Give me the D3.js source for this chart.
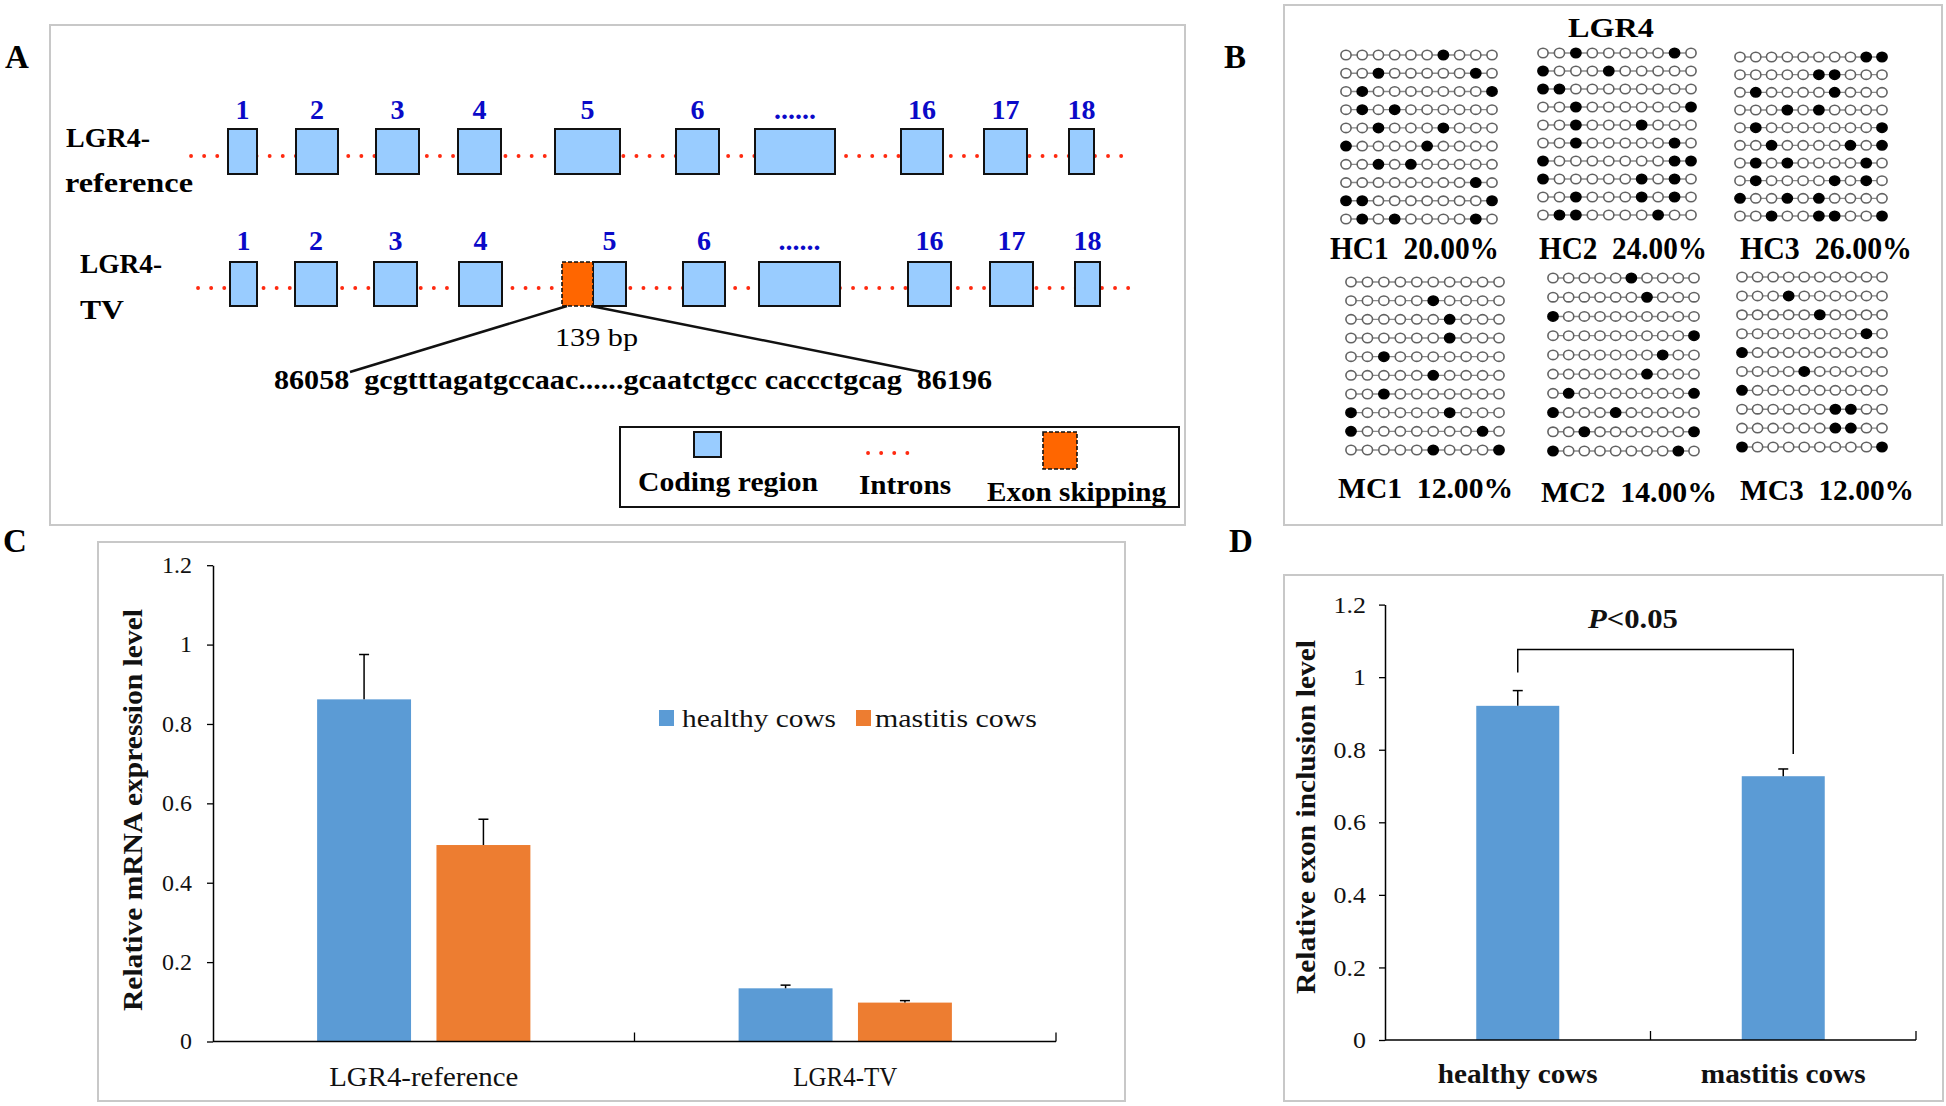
<!DOCTYPE html>
<html>
<head>
<meta charset="utf-8">
<script src="https://cdn.jsdelivr.net/npm/d3@7"></script>
<style>
  html, body { margin: 0; padding: 0; background: #fff; }
  svg { display: block; }
  text { font-family: "Liberation Serif", "Times New Roman", serif; }
</style>
</head>
<body>
<svg id="fig" width="1946" height="1106"></svg>
<script>
// ---------------- DATA ----------------
// Panel A: exon structure (diagram units along the gene)
const exonLabels = ["1","2","3","4","5","6","......","16","17","18"];
const refExonStart = [38,106,186,268,365,486,565,711,794,879];
const refExonEnd   = [67,148,229,311,430,529,645,753,837,904];
const tvExonStart  = [40,105,184,269,403,493,569,718,800,885];
const tvExonEnd    = [67,147,227,312,436,535,650,761,843,910];
const tvSkipStart = 372, tvSkipEnd = 403;
const refIntron = [1, 935];
const tvIntron = [8, 943];
const skipLengthLabel = "139 bp";
const skipSequence = "86058  gcgtttagatgccaac......gcaatctgcc caccctgcag  86196";
const legendLabelsA = ["Coding region","Introns","Exon skipping"];

// Panel B: methylation (filled CpG positions per clone, 10 clones x 10 CpGs)
const bTitle = "LGR4";
const bSamples = ["HC1","HC2","HC3","MC1","MC2","MC3"];
const bPercents = ["20.00%","24.00%","26.00%","12.00%","14.00%","12.00%"];
const hc1 = [[7],[3,9],[2,10],[2,4],[3,7],[1,6],[3,5],[9],[1,2,10],[2,4,9]];
const hc2 = [[3,9],[1,5],[1,2],[3,10],[3,7],[3,9],[1,9,10],[1,7,9],[3,7,9],[2,3,8]];
const hc3 = [[9,10],[6,7],[2,7],[4,6],[2,10],[3,8,10],[2,4,9],[2,7,9],[1,4,6],[3,6,7,10]];
const mc1 = [[],[6],[7],[7],[3],[6],[3],[1,7],[1,9],[6,10]];
const mc2 = [[6],[7],[1],[10],[8],[7],[2,10],[1,5],[3,10],[1,9]];
const mc3 = [[],[4],[6],[9],[1],[5],[1],[7,8],[7,8],[1,10]];
const bPatterns = [hc1, hc2, hc3, mc1, mc2, mc3];

// Panel C: relative mRNA expression
const cCategories = ["LGR4-reference","LGR4-TV"];
const cSeries = ["healthy cows","mastitis cows"];
const cHealthy = [0.862, 0.134];
const cHealthyErr = [0.113, 0.008];
const cMastitis = [0.495, 0.098];
const cMastitisErr = [0.065, 0.005];
const cYLabel = "Relative mRNA expression level";

// Panel D: relative exon inclusion
const dCategories = ["healthy cows","mastitis cows"];
const dValues = [0.921, 0.727];
const dErr = [0.042, 0.020];
const dBracketLevels = [1.013, 1.076, 0.788]; // left foot, bar, right foot
const dPText = "<0.05";
const dYLabel = "Relative exon inclusion level";

const yTicks = [0, 0.2, 0.4, 0.6, 0.8, 1, 1.2];
const yTickLabels = ["0","0.2","0.4","0.6","0.8","1","1.2"];

// ---------------- HELPERS ----------------
const svg = d3.select("#fig");
const BLUE = "#5b9bd5", ORANGE = "#ed7d31";
function fitW(sel, w) { sel.attr("textLength", w).attr("lengthAdjust", "spacingAndGlyphs"); return sel; }
function stretch(sel, k) {
  sel.each(function () {
    const L = this.getComputedTextLength();
    d3.select(this).attr("textLength", L * k).attr("lengthAdjust", "spacingAndGlyphs");
  });
  return sel;
}
function panelBox(x0, y0, x1, y1) {
  svg.append("rect").attr("x", x0).attr("y", y0).attr("width", x1 - x0).attr("height", y1 - y0)
    .attr("fill", "none").attr("stroke", "#c8c8c8").attr("stroke-width", 2);
}
function panelLetter(t, x, y) {
  svg.append("text").attr("x", x).attr("y", y).text(t)
    .attr("font-size", 33).attr("font-weight", "bold").attr("fill", "#000");
}

svg.append("rect").attr("width", 1946).attr("height", 1106).attr("fill", "#fff");

// ---------------- PANEL A ----------------
panelBox(50, 25, 1185, 525);
panelLetter("A", 5, 68);
const xA = d3.scaleLinear().domain([0, 944]).range([190, 1134]);
const gA = svg.append("g");

function intron(g, range, y) {
  g.append("line").attr("x1", xA(range[0])).attr("x2", xA(range[1]))
    .attr("y1", y).attr("y2", y)
    .attr("stroke", "#ff2a10").attr("stroke-width", 3.8)
    .attr("stroke-linecap", "round").attr("stroke-dasharray", "0.1,13");
}
function exons(g, starts, ends, y0, y1, labelY) {
  g.selectAll(null).data(starts).enter().append("rect")
    .attr("x", (d) => xA(d)).attr("y", y0)
    .attr("width", (d, i) => xA(ends[i]) - xA(d)).attr("height", y1 - y0)
    .attr("fill", "#99ccff").attr("stroke", "#111").attr("stroke-width", 2);
  g.selectAll(null).data(exonLabels).enter().append("text")
    .attr("x", (d, i) => (xA(starts[i]) + xA(ends[i])) / 2).attr("y", labelY)
    .attr("text-anchor", "middle").attr("font-size", 28).attr("font-weight", "bold")
    .attr("fill", "#0a0ac8").text((d) => d);
}
intron(gA, refIntron, 156);
exons(gA, refExonStart, refExonEnd, 129, 174, 119);
intron(gA, tvIntron, 288);
exons(gA, tvExonStart, tvExonEnd, 262, 306, 250);
// skipped exon part
gA.append("rect").attr("x", xA(tvSkipStart)).attr("y", 262)
  .attr("width", xA(tvSkipEnd) - xA(tvSkipStart)).attr("height", 44)
  .attr("fill", "#ff6600").attr("stroke", "#111").attr("stroke-width", 1.6)
  .attr("stroke-dasharray", "4,2");
// zoom lines
gA.append("line").attr("x1", xA(tvSkipStart) + 5).attr("y1", 306).attr("x2", 350).attr("y2", 372)
  .attr("stroke", "#111").attr("stroke-width", 2.5);
gA.append("line").attr("x1", xA(tvSkipEnd) - 2).attr("y1", 306).attr("x2", 922).attr("y2", 372)
  .attr("stroke", "#111").attr("stroke-width", 2.5);

fitW(gA.append("text").attr("x", 66).attr("y", 147).attr("font-size", 28).attr("font-weight", "bold").text("LGR4-"), 84);
fitW(gA.append("text").attr("x", 65).attr("y", 192).attr("font-size", 28).attr("font-weight", "bold").text("reference"), 128);
fitW(gA.append("text").attr("x", 80).attr("y", 273).attr("font-size", 28).attr("font-weight", "bold").text("LGR4-"), 82);
fitW(gA.append("text").attr("x", 80).attr("y", 319).attr("font-size", 28).attr("font-weight", "bold").text("TV"), 44);
fitW(gA.append("text").attr("x", 555).attr("y", 346).attr("font-size", 26).text(skipLengthLabel), 83);
fitW(gA.append("text").attr("x", 274).attr("y", 389).attr("font-size", 28).attr("font-weight", "bold")
  .style("white-space", "pre").text(skipSequence), 718);

// legend
gA.append("rect").attr("x", 620).attr("y", 427).attr("width", 559).attr("height", 80)
  .attr("fill", "#fff").attr("stroke", "#111").attr("stroke-width", 2);
gA.append("rect").attr("x", 694).attr("y", 432).attr("width", 27).attr("height", 25)
  .attr("fill", "#99ccff").attr("stroke", "#111").attr("stroke-width", 2);
gA.append("line").attr("x1", 868).attr("x2", 919).attr("y1", 453).attr("y2", 453)
  .attr("stroke", "#ff2a10").attr("stroke-width", 3.8)
  .attr("stroke-linecap", "round").attr("stroke-dasharray", "0.1,13");
gA.append("rect").attr("x", 1043).attr("y", 432).attr("width", 34).attr("height", 37)
  .attr("fill", "#ff6600").attr("stroke", "#111").attr("stroke-width", 1.6).attr("stroke-dasharray", "4,2");
const legAX = [638, 859, 987], legAW = [180, 92, 179], legAY = [491, 494, 501];
legendLabelsA.forEach((t, i) => {
  fitW(gA.append("text").attr("x", legAX[i]).attr("y", legAY[i]).attr("font-size", 28)
    .attr("font-weight", "bold").text(t), legAW[i]);
});

// ---------------- PANEL B ----------------
panelBox(1284, 5, 1942, 525);
panelLetter("B", 1224, 68);
fitW(svg.append("text").attr("x", 1568).attr("y", 37).attr("font-size", 28).attr("font-weight", "bold").text(bTitle), 86);
const gridLayout = [
  [1346, 1492, 55, 219], [1543, 1691, 53, 215], [1740, 1882, 57, 216],
  [1351, 1499, 282, 450], [1553, 1694, 278, 451], [1742, 1882, 277, 447]
];
const bLabelPos = [[1330, 259, 169], [1539, 259, 168], [1740, 259, 172],
                   [1338, 498, 175], [1541, 502, 176], [1740, 500, 174]];
bPatterns.forEach((pat, s) => {
  const L = gridLayout[s];
  const xs = d3.scaleLinear().domain([1, 10]).range([L[0], L[1]]);
  const ys = d3.scaleLinear().domain([1, 10]).range([L[2], L[3]]);
  const g = svg.append("g");
  pat.forEach((filled, r) => {
    g.append("line").attr("x1", xs(1)).attr("x2", xs(10)).attr("y1", ys(r + 1)).attr("y2", ys(r + 1))
      .attr("stroke", "#8a8a8a").attr("stroke-width", 1.4);
    g.selectAll(null).data(d3.range(1, 11)).enter().append("ellipse")
      .attr("cx", (c) => xs(c)).attr("cy", ys(r + 1)).attr("rx", 5.1).attr("ry", 4.7)
      .attr("fill", (c) => filled.includes(c) ? "#000" : "#fff")
      .attr("stroke", (c) => filled.includes(c) ? "#000" : "#626262").attr("stroke-width", 1.6);
  });
  const P = bLabelPos[s];
  fitW(svg.append("text").attr("x", P[0]).attr("y", P[1]).attr("font-size", s < 3 ? 32 : 30).attr("font-weight", "bold")
    .style("white-space", "pre").text(bSamples[s] + "  " + bPercents[s]), P[2]);
});

// ---------------- PANEL C ----------------
panelBox(98, 542, 1125, 1101);
panelLetter("C", 3, 552);
const yC = d3.scaleLinear().domain([0, 1.2]).range([1041.5, 565.2]);
const xC = d3.scaleBand().domain(cCategories).range([213, 1056]);
const xCi = d3.scaleBand().domain(cSeries)
  .range([xC.bandwidth() * 0.247, xC.bandwidth() * 0.753]).paddingInner(0.213);
const cData = cSeries.map((s, si) => cCategories.map((c, ci) => ({
  cat: c, ser: s,
  v: si === 0 ? cHealthy[ci] : cMastitis[ci],
  e: si === 0 ? cHealthyErr[ci] : cMastitisErr[ci]
}))).flat();
const gC = svg.append("g");
gC.selectAll(null).data(cData).enter().append("rect")
  .attr("x", (d) => xC(d.cat) + xCi(d.ser)).attr("width", xCi.bandwidth())
  .attr("y", (d) => yC(d.v)).attr("height", (d) => yC(0) - yC(d.v))
  .attr("fill", (d) => d.ser === cSeries[0] ? BLUE : ORANGE);
// error bars
cData.forEach((d) => {
  const cx = xC(d.cat) + xCi(d.ser) + xCi.bandwidth() / 2;
  gC.append("line").attr("x1", cx).attr("x2", cx).attr("y1", yC(d.v)).attr("y2", yC(d.v + d.e))
    .attr("stroke", "#000").attr("stroke-width", 1.5);
  gC.append("line").attr("x1", cx - 5).attr("x2", cx + 5).attr("y1", yC(d.v + d.e)).attr("y2", yC(d.v + d.e))
    .attr("stroke", "#000").attr("stroke-width", 1.5);
});
// y axis
const axC = gC.append("g").attr("transform", "translate(213,0)")
  .call(d3.axisLeft(yC).tickValues(yTicks).tickSizeInner(6).tickSizeOuter(0).tickPadding(15)
    .tickFormat((d, i) => yTickLabels[i]));
axC.select(".domain").attr("stroke", "#000").attr("stroke-width", 1.5);
axC.selectAll(".tick line").attr("stroke", "#000").attr("stroke-width", 1.3);
axC.selectAll(".tick text").attr("font-size", 23).attr("font-family", "Liberation Serif").attr("fill", "#111");
stretch(axC.selectAll(".tick text"), 1.04);
// x axis
gC.append("line").attr("x1", 213).attr("x2", 1056).attr("y1", yC(0)).attr("y2", yC(0))
  .attr("stroke", "#000").attr("stroke-width", 1.5);
[...cCategories.map((c) => xC(c)).slice(1), 1056].forEach((x) => {
  gC.append("line").attr("x1", x).attr("x2", x).attr("y1", yC(0)).attr("y2", yC(0) - 9)
    .attr("stroke", "#000").attr("stroke-width", 1.3);
});
const cXW = [189, 104];
gC.selectAll(null).data(cCategories).enter().append("text")
  .attr("x", (d) => xC(d) + xC.bandwidth() / 2).attr("y", 1086).attr("text-anchor", "middle")
  .attr("font-size", 28).attr("fill", "#111").text((d) => d)
  .each(function (d, i) { fitW(d3.select(this), cXW[i]); });
fitW(gC.append("text").attr("transform", "translate(142,810) rotate(-90)").attr("text-anchor", "middle")
  .attr("font-size", 27).attr("font-weight", "bold").attr("fill", "#111").text(cYLabel), 402);
// legend
const legCx = [659, 856], legCtx = [682, 875], legCw = [154, 162];
cSeries.forEach((s, i) => {
  gC.append("rect").attr("x", legCx[i]).attr("y", 710).attr("width", 15).attr("height", 16)
    .attr("fill", i === 0 ? BLUE : ORANGE);
  fitW(gC.append("text").attr("x", legCtx[i]).attr("y", 727).attr("font-size", 26).attr("fill", "#111")
    .text(s), legCw[i]);
});

// ---------------- PANEL D ----------------
panelBox(1284, 575, 1943, 1101);
panelLetter("D", 1229, 552);
const yD = d3.scaleLinear().domain([0, 1.2]).range([1040, 604.6]);
const xD = d3.scaleBand().domain(dCategories).range([1385, 1916]);
const barFrac = 0.3126;
const gD = svg.append("g");
const dCx = (c) => xD(c) + xD.bandwidth() / 2;
gD.selectAll(null).data(dCategories).enter().append("rect")
  .attr("x", (d) => dCx(d) - xD.bandwidth() * barFrac / 2).attr("width", xD.bandwidth() * barFrac)
  .attr("y", (d, i) => yD(dValues[i])).attr("height", (d, i) => yD(0) - yD(dValues[i]))
  .attr("fill", BLUE);
dCategories.forEach((c, i) => {
  const cx = dCx(c), top = yD(dValues[i] + dErr[i]);
  gD.append("line").attr("x1", cx).attr("x2", cx).attr("y1", yD(dValues[i])).attr("y2", top)
    .attr("stroke", "#000").attr("stroke-width", 1.5);
  gD.append("line").attr("x1", cx - 5).attr("x2", cx + 5).attr("y1", top).attr("y2", top)
    .attr("stroke", "#000").attr("stroke-width", 1.5);
});
// significance bracket
const bx0 = dCx(dCategories[0]), bx1 = dCx(dCategories[1]) + 10;
gD.append("path")
  .attr("d", `M${bx0},${yD(dBracketLevels[0])}V${yD(dBracketLevels[1])}H${bx1}V${yD(dBracketLevels[2])}`)
  .attr("fill", "none").attr("stroke", "#000").attr("stroke-width", 1.5);
const pT = gD.append("text").attr("x", 1588).attr("y", 628).attr("font-size", 28).attr("font-weight", "bold").attr("fill", "#111");
pT.append("tspan").attr("font-style", "italic").text("P");
pT.append("tspan").text(dPText);
fitW(pT, 90);
const axD = gD.append("g").attr("transform", "translate(1385,0)")
  .call(d3.axisLeft(yD).tickValues(yTicks).tickSizeInner(6).tickSizeOuter(0).tickPadding(13)
    .tickFormat((d, i) => yTickLabels[i]));
axD.select(".domain").attr("stroke", "#000").attr("stroke-width", 1.5);
axD.selectAll(".tick line").attr("stroke", "#000").attr("stroke-width", 1.3);
axD.selectAll(".tick text").attr("font-size", 24).attr("font-family", "Liberation Serif").attr("fill", "#111");
stretch(axD.selectAll(".tick text"), 1.08);
gD.append("line").attr("x1", 1385).attr("x2", 1916).attr("y1", yD(0)).attr("y2", yD(0))
  .attr("stroke", "#000").attr("stroke-width", 1.5);
[xD(dCategories[1]), 1916].forEach((x) => {
  gD.append("line").attr("x1", x).attr("x2", x).attr("y1", yD(0)).attr("y2", yD(0) - 9)
    .attr("stroke", "#000").attr("stroke-width", 1.3);
});
const dXW = [160, 165];
gD.selectAll(null).data(dCategories).enter().append("text")
  .attr("x", (d) => dCx(d)).attr("y", 1083).attr("text-anchor", "middle")
  .attr("font-size", 27).attr("font-weight", "bold").attr("fill", "#111").text((d) => d)
  .each(function (d, i) { fitW(d3.select(this), dXW[i]); });
fitW(gD.append("text").attr("transform", "translate(1315,817) rotate(-90)").attr("text-anchor", "middle")
  .attr("font-size", 27).attr("font-weight", "bold").attr("fill", "#111").text(dYLabel), 354);
</script>
</body>
</html>
